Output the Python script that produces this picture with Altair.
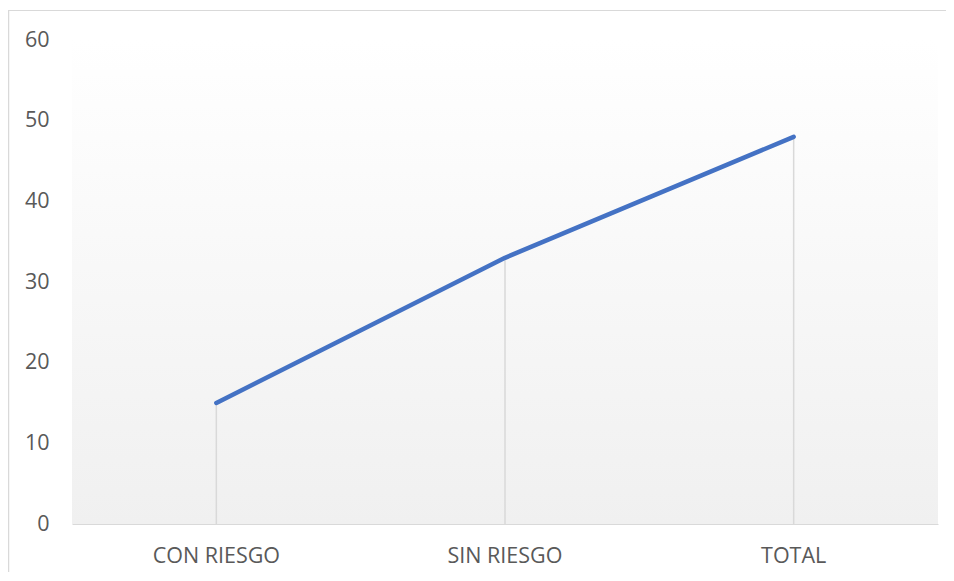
import altair as alt
import pandas as pd

categories = ["CON RIESGO", "SIN RIESGO", "TOTAL"]
values = [15, 33, 48]

df = pd.DataFrame({"cat": categories, "val": values})

W = 866
H = 484

x_enc = alt.X("cat:N", sort=categories, title=None,
              scale=alt.Scale(paddingInner=0, paddingOuter=0),
              axis=alt.Axis(labelAngle=0, ticks=False, domainColor="#d9d9d9",
                            domainWidth=1.2, labelColor="#595959", labelFontSize=21.5,
                            labelFont="Open Sans", labelPadding=21, grid=False))
y_scale = alt.Scale(domain=[0, 60])
y_enc = alt.Y("val:Q", title=None, scale=y_scale,
              axis=alt.Axis(values=[0, 10, 20, 30, 40, 50, 60], domain=False, ticks=False,
                            grid=False, labelColor="#595959", labelFontSize=21.5,
                            labelFont="Open Sans", labelPadding=23))

bg = alt.Chart(df).mark_rect(
    color=alt.LinearGradient(gradient="linear",
                             stops=[alt.GradientStop(color="#ffffff", offset=0),
                                    alt.GradientStop(color="#f0f0f0", offset=1)],
                             x1=0, x2=0, y1=0, y2=1)
).encode(x=alt.value(0), x2=alt.value(W), y=alt.value(0), y2=alt.value(H))

border = alt.Chart(df).mark_rect(fill=None, stroke="#d9d9d9", strokeWidth=1.2).encode(
    x=alt.value(-63.5), x2=alt.value(W + 200), y=alt.value(-29.5), y2=alt.value(H + 200))

drops = alt.Chart(df).mark_rule(color="#d9d9d9", strokeWidth=1.5).encode(
    x=x_enc, y=y_enc, y2=alt.datum(0))

line = alt.Chart(df).mark_line(color="#4472C4", strokeWidth=4.5, strokeCap="round",
                               strokeJoin="round").encode(x=x_enc, y=y_enc)

chart = alt.layer(bg, border, drops, line).properties(
    width=W, height=H,
    autosize=alt.AutoSizeParams(type="none"),
    padding={"left": 64, "top": 32, "right": 8, "bottom": 48},
).configure_view(stroke=None)

chart.save("out.html", embed_options={"renderer": "svg", "actions": False})
